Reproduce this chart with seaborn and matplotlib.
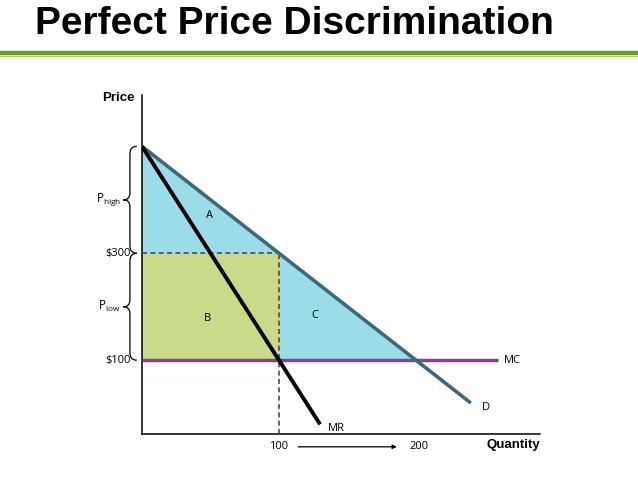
import numpy as np
import pandas as pd
import matplotlib
matplotlib.use("Agg")
import matplotlib.pyplot as plt
from matplotlib.path import Path
from matplotlib.patches import PathPatch
import seaborn as sns

# chart values (schematic economics diagram)
demand_q = [0, 240]
demand_p = [500, 20]
mr_q = [0, 130]
mr_p = [500, -20]
mc_q = [0, 260]
mc_p = [100, 100]
p_high, p_low = 300, 100      # the two price levels
q_low, q_high = 100, 200      # quantities at those prices
price_ticks = ["$300", "$100"]
qty_ticks = ["100", "200"]
area_labels = ["A", "B", "C"]
area_pos = [(49, 371), (48, 178), (126, 184)]

sns.set_style("white")
plt.rcParams['font.family'] = ['Open Sans', 'DejaVu Sans']
plt.rcParams['mathtext.default'] = 'regular'
plt.rcParams['text.color'] = 'black'

W, H = 638, 479
fig = plt.figure(figsize=(W / 100, H / 100), dpi=100)

# title and green rule
fig.text(35 / W, 1 - 24 / H, "Perfect Price Discrimination", fontsize=28, fontweight="bold",
         family=['Liberation Sans Narrow', 'Liberation Sans'], va="center", ha="left", color="black")
fig.add_artist(plt.Line2D([0, 1], [1 - 53 / H, 1 - 53 / H], color="#6E9A23", lw=3.2))
fig.add_artist(plt.Line2D([0, 1], [1 - 55.5 / H, 1 - 55.5 / H], color="#A8C66A", lw=1))

ax = fig.add_axes([142 / W, (H - 434) / H, (540 - 142) / W, (434 - 95) / H])
ax.set_xlim(0, 290.5)
ax.set_ylim(-38, 596)
sns.despine(ax=ax)
for s in ["left", "bottom"]:
    ax.spines[s].set_color("black")
    ax.spines[s].set_linewidth(1.1)
ax.set_xticks([])
ax.set_yticks([])

# shaded areas
top = demand_p[0]
ax.fill([0, q_high, 0], [top, p_low, p_low], color="#9BDCE9", lw=0, zorder=1)
ax.fill([0, q_low, q_low, 0], [p_low, p_low, p_high, p_high], color="#C9DB8A", lw=0, zorder=2)

# dashed guides
ax.plot([0, q_low], [p_high, p_high], ls=(0, (3, 2)), color="#4a4a4a", lw=1.2, zorder=3)
ax.plot([q_low, q_low], [-38, p_high], ls=(0, (3, 2)), color="#4a4a4a", lw=1.2, zorder=3)

lines = pd.DataFrame({
    "q": mc_q + demand_q + mr_q,
    "p": mc_p + demand_p + mr_p,
    "curve": ["MC"] * 2 + ["D"] * 2 + ["MR"] * 2,
})
sns.lineplot(data=lines, x="q", y="p", hue="curve",
             palette={"MC": "#8B3E95", "D": "#3E6A78", "MR": "black"},
             ax=ax, legend=False, sort=False, estimator=None, zorder=4)
for ln, w in zip(ax.get_lines()[-3:], [2.5, 2.6, 2.8]):
    ln.set_linewidth(w)
    ln.set_solid_capstyle("butt")

fs = 8
for lab, (qx, py) in zip(area_labels, area_pos):
    ax.text(qx, py, lab, fontsize=fs, ha="center", va="center")
ax.text(mc_q[1] + 4, mc_p[1], "MC", fontsize=fs, va="center")
ax.text(demand_q[1] + 8, demand_p[1] - 8, "D", fontsize=fs, va="center")
ax.text(mr_q[1] + 6, mr_p[1] - 7, "MR", fontsize=fs, va="center")

# axis tick texts
for lab, pv in zip(price_ticks, [p_high, p_low]):
    ax.text(-8, pv, lab, fontsize=fs, ha="right", va="center", clip_on=False)
for lab, qv in zip(qty_ticks, [q_low, q_high + 2]):
    ax.text(qv, -62, lab, fontsize=fs, ha="center", va="center", clip_on=False)
ax.annotate("", xy=(188, -62), xytext=(112, -62), annotation_clip=False,
            arrowprops=dict(arrowstyle="-|>", color="black", lw=0.9, mutation_scale=6))
ax.text(290.5, -58, "Quantity", fontsize=9.5, fontweight="bold", ha="right", va="center",
        family=['Liberation Sans Narrow', 'Liberation Sans'], clip_on=False)
ax.text(-17, 590, "Price", fontsize=9.5, fontweight="bold", ha="center", va="center",
        family=['Liberation Sans Narrow', 'Liberation Sans'], clip_on=False)


def brace(ax, y0, y1, x=-8.8, w=5):
    # curly brace on the left of the axis, tip pointing left
    ym = (y0 + y1) / 2
    h = 14
    codes = [Path.MOVETO, Path.CURVE3, Path.CURVE3, Path.LINETO,
             Path.CURVE4, Path.CURVE4, Path.CURVE4,
             Path.CURVE4, Path.CURVE4, Path.CURVE4,
             Path.LINETO, Path.CURVE3, Path.CURVE3]
    verts = [(x + w, y1), (x, y1), (x, y1 - h), (x, ym + h),
             (x, ym + 3), (x - w * 0.4, ym), (x - w, ym),
             (x - w * 0.4, ym), (x, ym - 3), (x, ym - h),
             (x, y0 + h), (x, y0), (x + w, y0)]
    ax.add_patch(PathPatch(Path(verts, codes), fill=False, lw=0.9, color="black", clip_on=False))
    return ym


ym_hi = brace(ax, p_high, top)
ym_lo = brace(ax, p_low, p_high)
ax.text(-15.5, ym_hi, "P$_{high}$", fontsize=8.5, ha="right", va="center", clip_on=False)
ax.text(-15.5, ym_lo, "P$_{low}$", fontsize=8.5, ha="right", va="center", clip_on=False)

fig.savefig("out.png", dpi=100)
